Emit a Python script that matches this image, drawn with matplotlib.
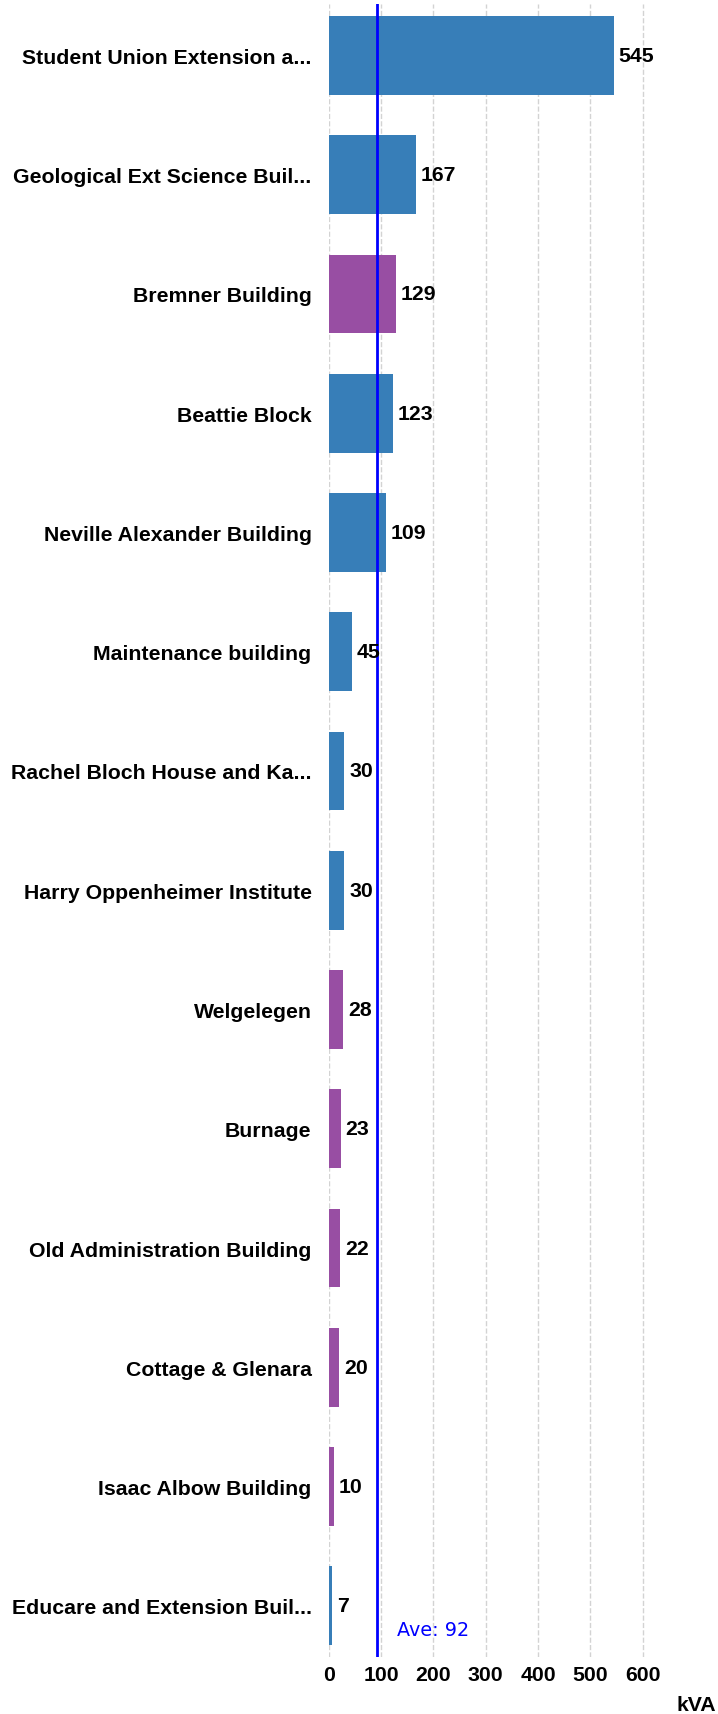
import matplotlib.pyplot as plt

# Building demand (kVA), top to bottom
buildings = [
    "Student Union Extension a...",
    "Geological Ext Science Buil...",
    "Bremner Building",
    "Beattie Block",
    "Neville Alexander Building",
    "Maintenance building",
    "Rachel Bloch House and Ka...",
    "Harry Oppenheimer Institute",
    "Welgelegen",
    "Burnage",
    "Old Administration Building",
    "Cottage & Glenara",
    "Isaac Albow Building",
    "Educare and Extension Buil...",
]
kva = [545, 167, 129, 123, 109, 45, 30, 30, 28, 23, 22, 20, 10, 7]
group = ["a", "a", "b", "a", "a", "a", "a", "a", "b", "b", "b", "b", "b", "a"]
average = 92
xticks = [0, 100, 200, 300, 400, 500, 600]

COLORS = {"a": "#377EB8", "b": "#984EA3"}
FONT = ["Liberation Sans", "DejaVu Sans"]
FS = 15.3

fig = plt.figure(figsize=(7.18, 17.15), dpi=100)
ax = fig.add_axes([0.4578, 0.0332, 0.5102, 0.9638])

ypos = list(range(len(buildings)))
ax.barh(ypos, kva, height=0.66, color=[COLORS[g] for g in group], zorder=2)

# value labels
for y, v in zip(ypos, kva):
    ax.annotate(str(v), (v, y), xytext=(3.5, 0), textcoords="offset points",
                va="center", ha="left", fontsize=FS, fontweight="bold",
                family=FONT, zorder=4)

# average line
ax.axvline(average, color="#0000FF", linewidth=2, zorder=3)
ax.text(130, 13.2, f"Ave: {average}", color="#0000FF", fontsize=13.8,
        family="DejaVu Sans", va="center", ha="left")

ax.set_xlim(0, 700)
ax.set_ylim(13.43, -0.43)
ax.set_yticks(ypos)
ax.set_yticklabels(buildings, fontsize=FS, fontweight="bold", family=FONT)
ax.set_xticks(xticks)
ax.set_xticklabels([str(t) for t in xticks], fontsize=FS, fontweight="bold", family=FONT)
ax.tick_params(axis="y", length=0, pad=12.3)
ax.tick_params(axis="x", length=0, pad=6)

ax.grid(axis="x", color="#D3D3D3", linestyle="--", linewidth=1, zorder=0)
ax.set_axisbelow(True)
for s in ax.spines.values():
    s.set_visible(False)

fig.text(0.998, 0.0058, "kVA", ha="right", va="center", fontsize=FS,
         fontweight="bold", family=FONT)

fig.savefig("out.png", dpi=100)
